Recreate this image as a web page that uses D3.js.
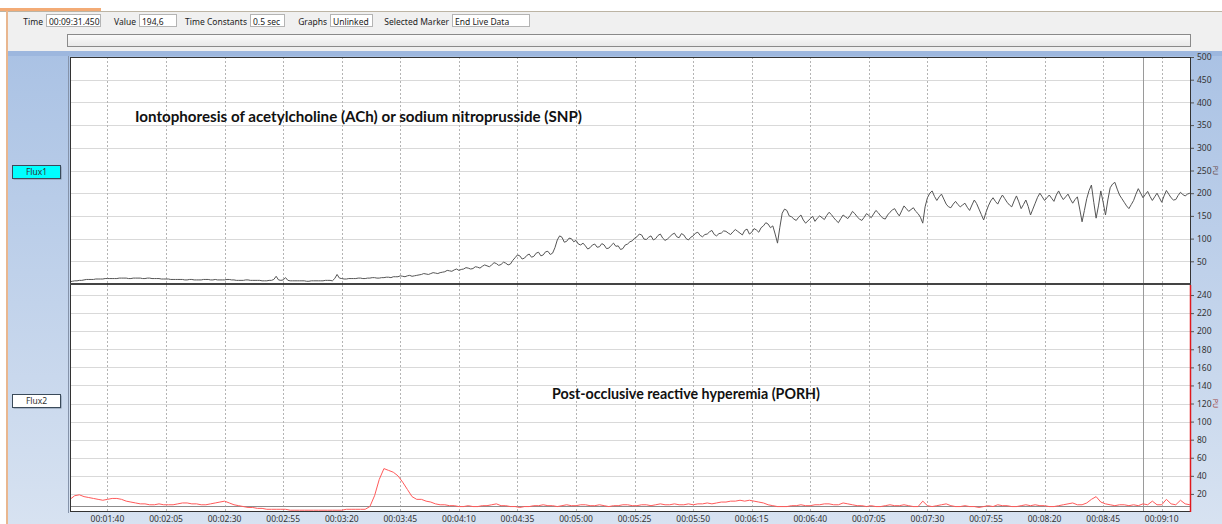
<!DOCTYPE html>
<html>
<head>
<meta charset="utf-8">
<script src="https://cdn.jsdelivr.net/npm/d3@7"></script>
<style>
	html, body { margin: 0; padding: 0; background: #fff; }
	svg { display: block; font-family: "Noto Sans", "DejaVu Sans", sans-serif; }
</style>
</head>
<body>
<svg id="chart" width="1222" height="524"></svg>
<script>
'use strict';

// recording time base (seconds)
var startTime = 84;
var flux1Step = 1;
var flux2Step = 2;

// Flux1 (PU), one reading per second
var flux1Values = [
	5, 6, 7, 7, 8, 8, 9, 10, 10, 10, 10, 11, 11, 11, 11, 12, 12, 12, 12, 12,
	12, 13, 13, 13, 13, 12, 12, 13, 13, 13, 13, 12, 12, 13, 13, 12, 12, 12, 12, 11,
	11, 11, 11, 10, 10, 10, 10, 10, 10, 9, 9, 10, 10, 9, 9, 9, 9, 10, 10, 10,
	9, 9, 10, 9, 9, 9, 9, 10, 10, 9, 9, 8, 8, 8, 8, 9, 9, 8, 8, 8,
	8, 8, 7, 7, 7, 8, 8, 10, 17, 9, 8, 9, 14, 8, 7, 7, 7, 7, 7, 7,
	7, 6, 6, 7, 7, 7, 7, 7, 7, 8, 8, 8, 7, 12, 21, 13, 12, 11, 11, 12,
	12, 12, 12, 13, 13, 12, 12, 13, 13, 14, 14, 13, 13, 14, 14, 15, 15, 14, 16, 16,
	16, 18, 17, 16, 18, 19, 17, 18, 19, 20, 21, 23, 22, 21, 23, 25, 24, 23, 25, 26,
	27, 30, 29, 28, 31, 33, 30, 32, 33, 36, 35, 33, 34, 38, 37, 35, 39, 42, 40, 38,
	42, 47, 45, 41, 43, 48, 46, 42, 44, 52, 58, 64, 62, 55, 57, 63, 66, 59, 61, 68,
	70, 62, 64, 71, 72, 65, 68, 80, 97, 106, 103, 92, 94, 101, 100, 93, 96, 88, 86, 90,
	84, 77, 80, 86, 88, 81, 82, 89, 86, 78, 79, 85, 90, 83, 84, 76, 78, 86, 88, 93,
	95, 101, 104, 110, 108, 99, 98, 103, 106, 97, 100, 107, 110, 101, 96, 99, 104, 109, 112, 104,
	102, 111, 108, 100, 97, 103, 106, 112, 114, 107, 104, 109, 110, 115, 118, 109, 106, 111, 112, 117,
	116, 112, 109, 115, 120, 116, 112, 108, 118, 121, 110, 114, 122, 119, 114, 124, 128, 135, 132, 124,
	128, 110, 90, 125, 156, 165, 162, 150, 148, 143, 140, 147, 152, 141, 134, 139, 144, 149, 138, 145,
	150, 146, 142, 151, 158, 153, 146, 140, 135, 144, 152, 148, 144, 151, 160, 155, 148, 143, 140, 147,
	155, 151, 146, 154, 162, 157, 150, 145, 143, 152, 158, 163, 166, 157, 150, 161, 172, 166, 160, 164,
	168, 160, 155, 147, 134, 170, 190, 200, 205, 193, 184, 192, 198, 187, 176, 170, 168, 176, 182, 175,
	170, 174, 178, 169, 162, 174, 185, 177, 165, 153, 141, 158, 172, 183, 190, 182, 176, 187, 196, 188,
	180, 174, 170, 183, 194, 181, 166, 175, 185, 171, 152, 165, 178, 191, 200, 192, 184, 190, 196, 189,
	182, 196, 205, 194, 186, 192, 198, 187, 178, 186, 192, 165, 137, 162, 188, 206, 218, 180, 145, 172,
	205, 180, 152, 185, 212, 220, 224, 209, 196, 188, 180, 172, 166, 175, 184, 198, 210, 200, 190, 197,
	204, 193, 184, 192, 200, 190, 180, 194, 206, 198, 190, 185, 186, 195, 202, 197, 194, 198, 200
];

// Flux2 (PU), one reading every 2 s
var flux2Values = [
	14, 18, 19, 17, 16, 15, 14, 13, 14, 15,
	15, 14, 12, 11, 10, 9, 9, 8, 8, 9,
	8, 8, 8, 9, 10, 10, 9, 9, 8, 8,
	9, 10, 11, 12, 10, 8, 7, 6, 5, 5,
	4, 4, 3, 3, 3, 3, 3, 2, 2, 2,
	2, 2, 2, 2, 2, 2, 2, 2, 2, 3,
	3, 3, 3, 3, 6, 18, 36, 48, 46, 44,
	40, 33, 25, 17, 14, 14, 12, 11, 9, 8,
	8, 7, 7, 6, 6, 7, 6, 6, 7, 7,
	8, 9, 7, 7, 6, 6, 5, 6, 6, 7,
	7, 8, 7, 7, 6, 7, 8, 7, 7, 8,
	8, 7, 7, 8, 7, 6, 7, 7, 8, 8,
	7, 7, 8, 8, 7, 8, 9, 8, 8, 9,
	8, 8, 9, 8, 9, 9, 10, 9, 10, 11,
	11, 12, 12, 13, 12, 13, 12, 11, 10, 8,
	7, 6, 6, 6, 7, 7, 8, 7, 7, 8,
	8, 9, 9, 8, 8, 10, 9, 8, 7, 7,
	6, 7, 6, 6, 7, 8, 7, 7, 8, 7,
	6, 6, 12, 7, 6, 7, 8, 9, 7, 6,
	6, 7, 6, 6, 5, 6, 7, 6, 8, 7,
	7, 6, 6, 7, 8, 7, 8, 7, 7, 6,
	6, 7, 8, 9, 10, 8, 8, 10, 14, 17,
	11, 9, 8, 7, 8, 8, 7, 8, 7, 9,
	8, 12, 8, 8, 14, 9, 8, 13, 9, 8
];

var flux1Ticks = [50, 100, 150, 200, 250, 300, 350, 400, 450, 500];
var flux2Ticks = [20, 40, 60, 80, 100, 120, 140, 160, 180, 200, 220, 240];
var timeTicks = [100, 125, 150, 175, 200, 225, 250, 275, 300, 325, 350, 375, 400, 425, 450, 475, 500, 525, 550];
var markerTimes = [542];
var flux2Baseline = 7;

var toolbarLabels = ["Time", "Value", "Time Constants", "Graphs", "Selected Marker"];
var toolbarValues = ["00:09:31.450", "194,6", "0.5 sec", "Unlinked", "End Live Data"];

var annotations = [
	{panel: 1, text: "Iontophoresis of acetylcholine (ACh) or sodium nitroprusside (SNP)"},
	{panel: 2, text: "Post-occlusive reactive hyperemia (PORH)"}
];

// ---- layout ----
var svg = d3.select("#chart");
var plot = {left: 70, right: 1191, top: 57, mid: 285, bottom: 512};

var x = d3.scaleLinear().domain([84, 562.5]).range([plot.left, plot.right]);
var y1 = d3.scaleLinear().domain([0, 500]).range([plot.mid - 1, plot.top]);
var y2 = d3.scaleLinear().domain([0, 250]).range([plot.bottom, plot.mid + 1]);

function pad(n) { return (n < 10 ? "0" : "") + n; }
function fmtTime(s) { return "00:" + pad(Math.floor(s / 60)) + ":" + pad(s % 60); }

function toPoints(values, step) {
	return values.map(function(v, i) {
		return {t: startTime + i * step, v: v};
	});
}

var defs = svg.append("defs");
var grad = defs.append("linearGradient").attr("id", "bgBlue")
	.attr("x1", 0).attr("y1", 0).attr("x2", 0).attr("y2", 1);
grad.append("stop").attr("offset", 0).attr("stop-color", "#aac2e4");
grad.append("stop").attr("offset", 1).attr("stop-color", "#d7e2f1");

var barGrad = defs.append("linearGradient").attr("id", "barGrad")
	.attr("x1", 0).attr("y1", 0).attr("x2", 0).attr("y2", 1);
barGrad.append("stop").attr("offset", 0).attr("stop-color", "#fbfbfb");
barGrad.append("stop").attr("offset", 1).attr("stop-color", "#e9e9e9");

defs.append("clipPath").attr("id", "clip1").append("rect")
	.attr("x", plot.left).attr("y", plot.top)
	.attr("width", plot.right - plot.left).attr("height", plot.mid - plot.top);
defs.append("clipPath").attr("id", "clip2").append("rect")
	.attr("x", plot.left).attr("y", plot.mid)
	.attr("width", plot.right - plot.left).attr("height", plot.bottom - plot.mid);

// ---- window chrome ----
svg.append("rect").attr("width", 1222).attr("height", 524).attr("fill", "#fff");
svg.append("rect").attr("x", 8).attr("y", 11).attr("width", 1214).attr("height", 40).attr("fill", "#f0f0f0");
svg.append("line").attr("x1", 0).attr("x2", 1222).attr("y1", 11.5).attr("y2", 11.5).attr("stroke", "#bcb4a4");
svg.append("rect").attr("x", 0).attr("y", 8).attr("width", 101).attr("height", 3).attr("fill", "#f3ab76");
svg.append("rect").attr("x", 6).attr("y", 11).attr("width", 2).attr("height", 513).attr("fill", "#e9b78f");

// toolbar fields
var tb = svg.append("g").attr("font-size", 8.5).attr("fill", "#222");
var tbBox = [[46, 100], [139, 176], [250, 284], [330, 372], [452, 529]];
toolbarLabels.forEach(function(lab, i) {
	tb.append("text").attr("x", tbBox[i][0] - 3).attr("y", 24.5)
		.attr("text-anchor", "end").text(lab);
	tb.append("rect").attr("x", tbBox[i][0] + 0.5).attr("y", 14.5)
		.attr("width", tbBox[i][1] - tbBox[i][0]).attr("height", 12)
		.attr("fill", "#fff").attr("stroke", "#b4b4b4");
	tb.append("text").attr("x", tbBox[i][0] + 3).attr("y", 24.5).text(toolbarValues[i]);
});

svg.append("rect").attr("x", 67.5).attr("y", 34.5).attr("width", 1123).attr("height", 12)
	.attr("fill", "url(#barGrad)").attr("stroke", "#8a8a8a");

// ---- chart background ----
svg.append("rect").attr("x", 8).attr("y", 51).attr("width", 1214).attr("height", 473).attr("fill", "url(#bgBlue)");
svg.append("rect").attr("x", 8).attr("y", 51).attr("width", 1214).attr("height", 5).attr("fill", "#9db7de");
svg.append("line").attr("x1", 68.5).attr("x2", 68.5).attr("y1", 56).attr("y2", 513).attr("stroke", "#8593aa");
svg.append("rect").attr("x", plot.left).attr("y", plot.top)
	.attr("width", plot.right - plot.left).attr("height", plot.bottom - plot.top).attr("fill", "#fff");

// grid
var grid = svg.append("g");
grid.selectAll(".h1").data(flux1Ticks.slice(0, -1)).enter().append("line")
	.attr("x1", plot.left).attr("x2", plot.right)
	.attr("y1", function(d) { return Math.round(y1(d)) + 0.5; })
	.attr("y2", function(d) { return Math.round(y1(d)) + 0.5; })
	.attr("stroke", "#d9d9d9");
grid.selectAll(".h2").data(flux2Ticks).enter().append("line")
	.attr("x1", plot.left).attr("x2", plot.right)
	.attr("y1", function(d) { return Math.round(y2(d)) + 0.5; })
	.attr("y2", function(d) { return Math.round(y2(d)) + 0.5; })
	.attr("stroke", "#d9d9d9");
grid.selectAll(".v").data(timeTicks).enter().append("line")
	.attr("x1", function(d) { return Math.round(x(d)) + 0.5; })
	.attr("x2", function(d) { return Math.round(x(d)) + 0.5; })
	.attr("y1", plot.top).attr("y2", plot.bottom)
	.attr("stroke", "#b4b4b4").attr("stroke-dasharray", "2,2");
grid.selectAll(".m").data(markerTimes).enter().append("line")
	.attr("x1", function(d) { return Math.round(x(d)) + 0.5; })
	.attr("x2", function(d) { return Math.round(x(d)) + 0.5; })
	.attr("y1", plot.top).attr("y2", plot.bottom)
	.attr("stroke", "#9a9a9a");
grid.append("line")
	.attr("x1", plot.left).attr("x2", plot.right)
	.attr("y1", Math.round(y2(flux2Baseline)) + 0.5).attr("y2", Math.round(y2(flux2Baseline)) + 0.5)
	.attr("stroke", "#8c8c8c");

// traces
var line1 = d3.line()
	.x(function(d) { return x(d.t); })
	.y(function(d) { return y1(d.v); });
var line2 = d3.line()
	.x(function(d) { return x(d.t); })
	.y(function(d) { return y2(d.v); });

svg.append("path").datum(toPoints(flux1Values, flux1Step))
	.attr("clip-path", "url(#clip1)")
	.attr("d", line1).attr("fill", "none")
	.attr("stroke", "#555").attr("stroke-width", 1);
svg.append("path").datum(toPoints(flux2Values, flux2Step))
	.attr("clip-path", "url(#clip2)")
	.attr("d", line2).attr("fill", "none")
	.attr("stroke", "#ff5a5a").attr("stroke-width", 1);

// frames
svg.append("rect").attr("x", plot.left + 0.5).attr("y", plot.top + 0.5)
	.attr("width", plot.right - plot.left - 1).attr("height", plot.bottom - plot.top - 1)
	.attr("fill", "none").attr("stroke", "#333");
svg.append("line").attr("x1", plot.left).attr("x2", plot.right)
	.attr("y1", plot.mid - 1).attr("y2", plot.mid - 1)
	.attr("stroke", "#444").attr("stroke-width", 2);
svg.append("line").attr("x1", plot.right - 0.5).attr("x2", plot.right - 0.5)
	.attr("y1", plot.mid).attr("y2", plot.bottom)
	.attr("stroke", "#e0181c").attr("stroke-width", 1.5);

// right axes
var ax1 = svg.append("g").attr("transform", "translate(" + plot.right + ",0)")
	.call(d3.axisRight(y1).tickValues(flux1Ticks).tickSize(3).tickPadding(3));
var ax2 = svg.append("g").attr("transform", "translate(" + plot.right + ",0)")
	.call(d3.axisRight(y2).tickValues(flux2Ticks).tickSize(3).tickPadding(3));
[ax1, ax2].forEach(function(a) {
	a.select(".domain").remove();
	a.selectAll("line").attr("stroke", "#555");
	a.selectAll("text").attr("font-size", 8.5).attr("fill", "#333")
		.attr("font-family", "\"Noto Sans\", sans-serif");
});

// time axis labels
svg.append("g").selectAll("text").data(timeTicks).enter().append("text")
	.attr("x", function(d) { return x(d); })
	.attr("y", 521.5)
	.attr("text-anchor", "middle")
	.attr("font-size", 8.5).attr("fill", "#333")
	.text(fmtTime);

// unit labels tucked against the right edge
[[y1(250), "#6a4a4a"], [y2(120), "#a04848"]].forEach(function(u) {
	svg.append("text").attr("transform", "translate(1213," + u[0] + ") rotate(90)")
		.attr("text-anchor", "middle").attr("font-size", 7).attr("fill", u[1]).text("PU");
});

// channel labels
[["Flux1", 165, "#00ffff"], ["Flux2", 394, "#ffffff"]].forEach(function(c) {
	svg.append("rect").attr("x", 13.5).attr("y", c[1] + 1.5).attr("width", 48).attr("height", 13)
		.attr("fill", "#7d8ca0");
	svg.append("rect").attr("x", 12.5).attr("y", c[1] + 0.5).attr("width", 48).attr("height", 13)
		.attr("fill", c[2]).attr("stroke", "#3a4a5a");
	svg.append("text").attr("x", 36.5).attr("y", c[1] + 10).attr("text-anchor", "middle")
		.attr("font-size", 8.5).attr("fill", "#333").text(c[0]);
});

// annotations
var annPos = {1: [135, 122, 447], 2: [552, 398.5, 268]};
annotations.forEach(function(a) {
	var p = annPos[a.panel];
	svg.append("text").attr("x", p[0]).attr("y", p[1])
		.attr("font-family", "Lato, \"Open Sans\", sans-serif")
		.attr("font-weight", "bold").attr("font-size", 14.5).attr("fill", "#111")
		.attr("textLength", p[2]).attr("lengthAdjust", "spacingAndGlyphs")
		.text(a.text);
});
</script>
</body>
</html>
